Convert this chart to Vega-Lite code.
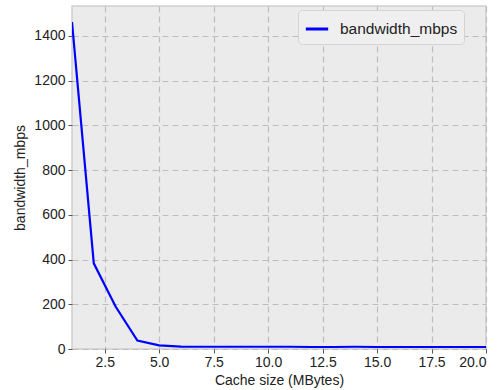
{
  "$schema": "https://vega.github.io/schema/vega-lite/v6.json",
  "width": 414,
  "height": 343,
  "autosize": {"type": "none"},
  "padding": {"left": 72, "top": 6, "right": 13, "bottom": 41},
  "background": "white",
  "config": {
    "font": "Liberation Sans",
    "view": {"fill": "#ebebeb", "stroke": "#cfcfcf", "strokeWidth": 1.5}
  },
  "data": {
    "values": [
      {"cache": 1, "bandwidth": 1462, "series": "bandwidth_mbps"},
      {"cache": 2, "bandwidth": 383, "series": "bandwidth_mbps"},
      {"cache": 3, "bandwidth": 190, "series": "bandwidth_mbps"},
      {"cache": 4, "bandwidth": 38, "series": "bandwidth_mbps"},
      {"cache": 5, "bandwidth": 16, "series": "bandwidth_mbps"},
      {"cache": 6, "bandwidth": 11, "series": "bandwidth_mbps"},
      {"cache": 7, "bandwidth": 10, "series": "bandwidth_mbps"},
      {"cache": 8, "bandwidth": 10, "series": "bandwidth_mbps"},
      {"cache": 9, "bandwidth": 10, "series": "bandwidth_mbps"},
      {"cache": 10, "bandwidth": 10, "series": "bandwidth_mbps"},
      {"cache": 11, "bandwidth": 10, "series": "bandwidth_mbps"},
      {"cache": 12, "bandwidth": 9, "series": "bandwidth_mbps"},
      {"cache": 13, "bandwidth": 9, "series": "bandwidth_mbps"},
      {"cache": 14, "bandwidth": 10, "series": "bandwidth_mbps"},
      {"cache": 15, "bandwidth": 9, "series": "bandwidth_mbps"},
      {"cache": 16, "bandwidth": 9, "series": "bandwidth_mbps"},
      {"cache": 17, "bandwidth": 9, "series": "bandwidth_mbps"},
      {"cache": 18, "bandwidth": 9, "series": "bandwidth_mbps"},
      {"cache": 19, "bandwidth": 9, "series": "bandwidth_mbps"},
      {"cache": 20, "bandwidth": 9, "series": "bandwidth_mbps"}
    ]
  },
  "mark": {"type": "line", "strokeWidth": 2.2, "clip": true},
  "encoding": {
    "x": {
      "field": "cache",
      "type": "quantitative",
      "scale": {"domain": [1, 20], "nice": false, "zero": false},
      "axis": {
        "title": "Cache size (MBytes)",
        "values": [2.5, 5, 7.5, 10, 12.5, 15, 17.5, 20],
        "format": ".1f",
        "labelFontSize": 14,
        "labelColor": "#222",
        "titleFontSize": 14,
        "titleFontWeight": "normal",
        "titleColor": "#222",
        "titlePadding": 4,
        "domain": false,
        "tickColor": "#555",
        "tickSize": 4,
        "labelPadding": 2,
        "grid": true,
        "gridColor": "#bdbdbd",
        "gridDash": [6, 4],
        "gridWidth": 1.2
      }
    },
    "y": {
      "field": "bandwidth",
      "type": "quantitative",
      "scale": {"domain": [0, 1534], "nice": false},
      "axis": {
        "title": "bandwidth_mbps",
        "values": [0, 200, 400, 600, 800, 1000, 1200, 1400],
        "format": "d",
        "labelFontSize": 14,
        "labelColor": "#222",
        "titleFontSize": 14,
        "titleFontWeight": "normal",
        "titleColor": "#222",
        "titlePadding": 6,
        "domain": false,
        "tickColor": "#555",
        "tickSize": 4,
        "labelPadding": 3,
        "grid": true,
        "gridColor": "#bdbdbd",
        "gridDash": [6, 4],
        "gridWidth": 1.2
      }
    },
    "color": {
      "field": "series",
      "type": "nominal",
      "scale": {"range": ["#0000ff"]},
      "legend": {
        "title": null,
        "orient": "none",
        "legendX": 226,
        "legendY": 4,
        "symbolType": "stroke",
        "symbolStrokeWidth": 3,
        "symbolSize": 500,
        "labelFontSize": 15.5,
        "labelColor": "#222",
        "fillColor": "#efefef",
        "strokeColor": "#d4d4d4",
        "cornerRadius": 4,
        "padding": 6,
        "labelOffset": 10
      }
    }
  }
}
